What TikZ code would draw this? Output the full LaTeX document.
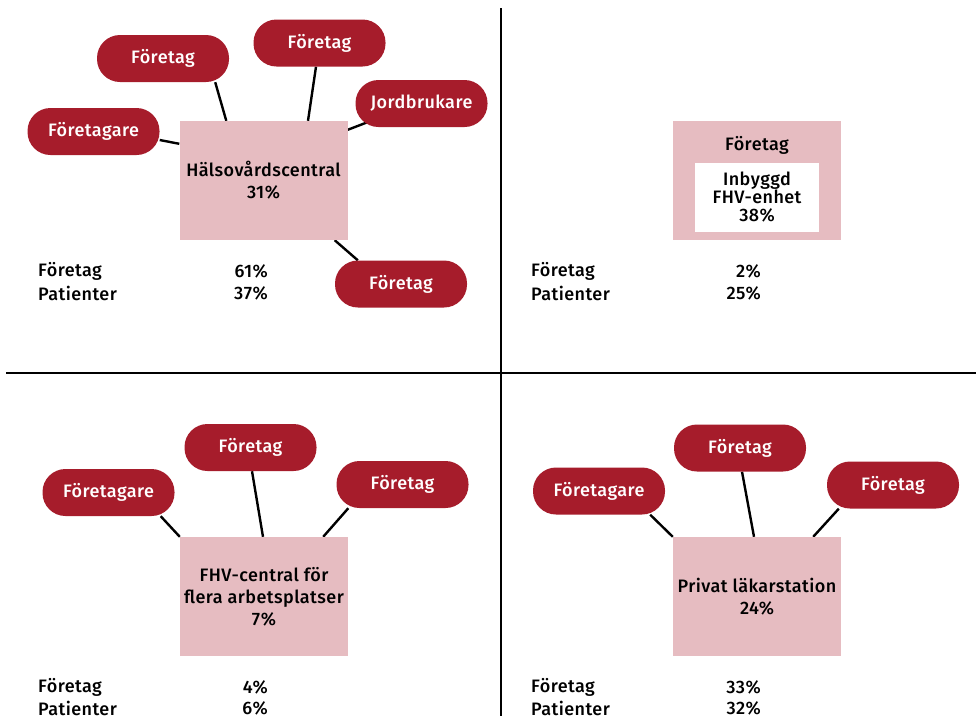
\documentclass[tikz,border=0pt]{standalone}
\usepackage{fontspec}
\setmainfont{Fira Sans Medium}[LetterSpace=2.5]
\usetikzlibrary{backgrounds}
\definecolor{pillred}{HTML}{A61C2B}
\definecolor{boxpink}{HTML}{E6BCC1}
\begin{document}
\begin{tikzpicture}[x=1pt,y=-1pt,
  pill/.style={fill=pillred, text=white, rounded corners=23pt, minimum width=132pt, minimum height=47pt, inner sep=0pt, font=\fontsize{18}{20}\selectfont},
  ctrbox/.style={fill=boxpink, minimum width=168pt, minimum height=119pt, inner sep=0pt, align=center, font=\fontsize{18}{22}\selectfont},
  inbox/.style={fill=white, minimum width=124pt, minimum height=69pt, inner sep=0pt, align=center, font=\fontsize{18}{18}\selectfont},
  plain/.style={inner sep=0pt, font=\fontsize{18}{22}\selectfont},
  lbl/.style={plain, anchor=west},
  pct/.style={plain, anchor=east},
  link/.style={line width=2.4pt},
  sep/.style={line width=2.4pt}]
\useasboundingbox (0,0) rectangle (976,716);

% separators
\coordinate (vtop) at (501,8);
\coordinate (vbot) at (501,716);
\coordinate (hleft) at (6,373);
\coordinate (hright) at (976,373);
\draw[sep] (vtop) -- (vbot);
\draw[sep] (hleft) -- (hright);

% ---------- Quadrant 1 ----------
\node[ctrbox] (c1) at (263.5,180.5) {Hälsovårdscentral\\31\%};
\node[pill] (p11) at (93.5,131.5) {Företagare};
\node[pill] (p12) at (163,58.5) {Företag};
\node[pill] (p13) at (319.5,43) {Företag};
\node[pill] (p14) at (421.5,103.5) {Jordbrukare};
\node[pill] (p15) at (401,284) {Företag};
\begin{scope}[on background layer]
\draw[link] ([yshift=-8.5pt]p11.east) -- ([yshift=-23pt]c1.north west);
\draw[link] ([xshift=-14pt]p12.south east) -- ([xshift=47pt]c1.north west);
\draw[link] ([xshift=-3.5pt]p13.south) -- ([xshift=44.5pt]c1.north);
\draw[link] ([xshift=20pt,yshift=8pt]p14.south west) -- ([yshift=-9pt]c1.north east);
\draw[link] ([xshift=-13pt]c1.south east) -- ([xshift=23pt]p15.north west);
\end{scope}
\node[lbl] (t1a) at (38,271) {Företag};
\node[lbl] (t1b) at (38,293) {Patienter};
\node[pct] (v1a) at (268,271) {61\%};
\node[pct] (v1b) at (268,293) {37\%};

% ---------- Quadrant 2 ----------
\node[fill=boxpink, minimum width=168pt, minimum height=119pt, inner sep=0pt] (c2) at (757,180.5) {};
\node[plain] (c2t) at (757,145) {Företag};
\node[inbox] (c2in) at (757,197.5) {Inbyggd\\FHV-enhet\\38\%};
\node[lbl] (t2a) at (531,271) {Företag};
\node[lbl] (t2b) at (531,293) {Patienter};
\node[pct] (v2a) at (761,271) {2\%};
\node[pct] (v2b) at (761,293) {25\%};

% ---------- Quadrant 3 ----------
\node[ctrbox] (c3) at (264,596.5) {FHV-central för\\flera arbetsplatser\\7\%};
\node[pill] (p31) at (108.5,492.5) {Företagare};
\node[pill] (p32) at (250.5,447.5) {Företag};
\node[pill] (p33) at (402.5,484.5) {Företag};
\begin{scope}[on background layer]
\draw[link] ([xshift=-14pt]p31.south east) -- (c3.north west);
\draw[link] ([xshift=1.5pt]p32.south) -- ([xshift=-1pt]c3.north);
\draw[link] ([xshift=12pt]p33.south west) -- ([xshift=-25pt]c3.north east);
\end{scope}
\node[lbl] (t3a) at (38,687) {Företag};
\node[lbl] (t3b) at (38,708) {Patienter};
\node[pct] (v3a) at (268,687) {4\%};
\node[pct] (v3b) at (268,708) {6\%};

% ---------- Quadrant 4 ----------
\node[ctrbox] (c4) at (757,596.5) {Privat läkarstation\\24\%};
\node[pill] (p41) at (599,491) {Företagare};
\node[pill] (p42) at (740,448) {Företag};
\node[pill] (p43) at (893,485) {Företag};
\begin{scope}[on background layer]
\draw[link] ([xshift=-15pt]p41.south east) -- (c4.north west);
\draw[link] ([xshift=2pt]p42.south) -- ([xshift=-3pt]c4.north);
\draw[link] ([xshift=12pt]p43.south west) -- ([xshift=-28pt]c4.north east);
\end{scope}
\node[lbl] (t4a) at (531,687) {Företag};
\node[lbl] (t4b) at (531,708) {Patienter};
\node[pct] (v4a) at (761,687) {33\%};
\node[pct] (v4b) at (761,708) {32\%};
\end{tikzpicture}
\end{document}
